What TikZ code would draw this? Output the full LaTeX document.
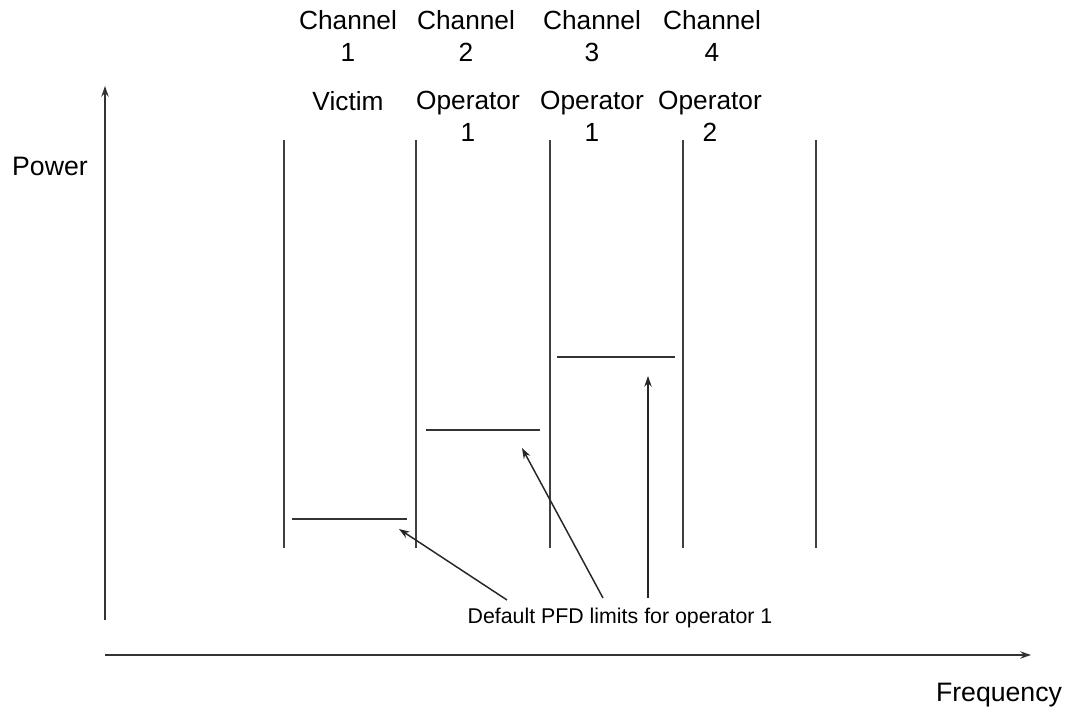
\documentclass[tikz,border=0pt]{standalone}
\usepackage{fontspec}
\setmainfont{Liberation Sans}
\usetikzlibrary{arrows.meta}
\begin{document}
\begin{tikzpicture}[x=0.75pt,y=-0.75pt,
  ln/.style={draw=black!75,line width=1.4pt},
  lvl/.style={draw=black!80,line width=1.2pt},
  ax/.style={draw=black!80,line width=1.2pt,-{Stealth[length=8pt,width=5.5pt]}},
  pt/.style={draw=black!85,line width=1.1pt,-{Stealth[length=8pt,width=5.5pt]}},
  hdr/.style={font=\fontsize{19.7}{24}\selectfont,align=center,inner sep=0pt,anchor=north},
  lbl/.style={font=\fontsize{20}{24}\selectfont,inner sep=0pt},
  note/.style={font=\fontsize{16}{19}\selectfont,inner sep=0pt}]
\useasboundingbox (0,0) rectangle (1079,713);
% axes
\coordinate (yo) at (105,620);
\coordinate (yt) at (105,86);
\coordinate (xo) at (105,655);
\coordinate (xt) at (1031,655);
\draw[ax] (yo) -- (yt);
\draw[ax] (xo) -- (xt);
\node[lbl] (power) at (50,166) {Power};
\node[lbl] (freq) at (999,695) {Frequency};
% channel separators
\foreach \n/\x in {a/284,b/416,c/550,d/683,e/816}{
  \coordinate (\n t) at (\x,140);
  \coordinate (\n b) at (\x,548);
  \draw[ln] (\n t) -- (\n b);
}
% levels
\coordinate (l1a) at (292,519); \coordinate (l1b) at (407,519);
\coordinate (l2a) at (426,430); \coordinate (l2b) at (540,430);
\coordinate (l3a) at (557,357); \coordinate (l3b) at (675,357);
\draw[lvl] (l1a) -- (l1b);
\draw[lvl] (l2a) -- (l2b);
\draw[lvl] (l3a) -- (l3b);
% headers
\node[hdr] (h1) at (348,10) {Channel\\1};
\node[hdr] (h2) at (466,10) {Channel\\2};
\node[hdr] (h3) at (592,10) {Channel\\3};
\node[hdr] (h4) at (712,10) {Channel\\4};
\node[hdr] (o1) at (348,91) {Victim};
\node[hdr] (o2) at (468,91) {Operator\\1};
\node[hdr] (o3) at (592,91) {Operator\\1};
\node[hdr] (o4) at (710,91) {Operator\\2};
% note and pointers
\node[note] (pfd) at (620,618) {Default PFD limits for operator 1};
\coordinate (s1) at (507,600); \coordinate (t1) at (399,529);
\coordinate (s2) at (603,598); \coordinate (t2) at (522,448);
\coordinate (s3) at (648,598); \coordinate (t3) at (648,376);
\draw[pt] (s1) -- (t1);
\draw[pt] (s2) -- (t2);
\draw[pt] (s3) -- (t3);
\end{tikzpicture}
\end{document}
